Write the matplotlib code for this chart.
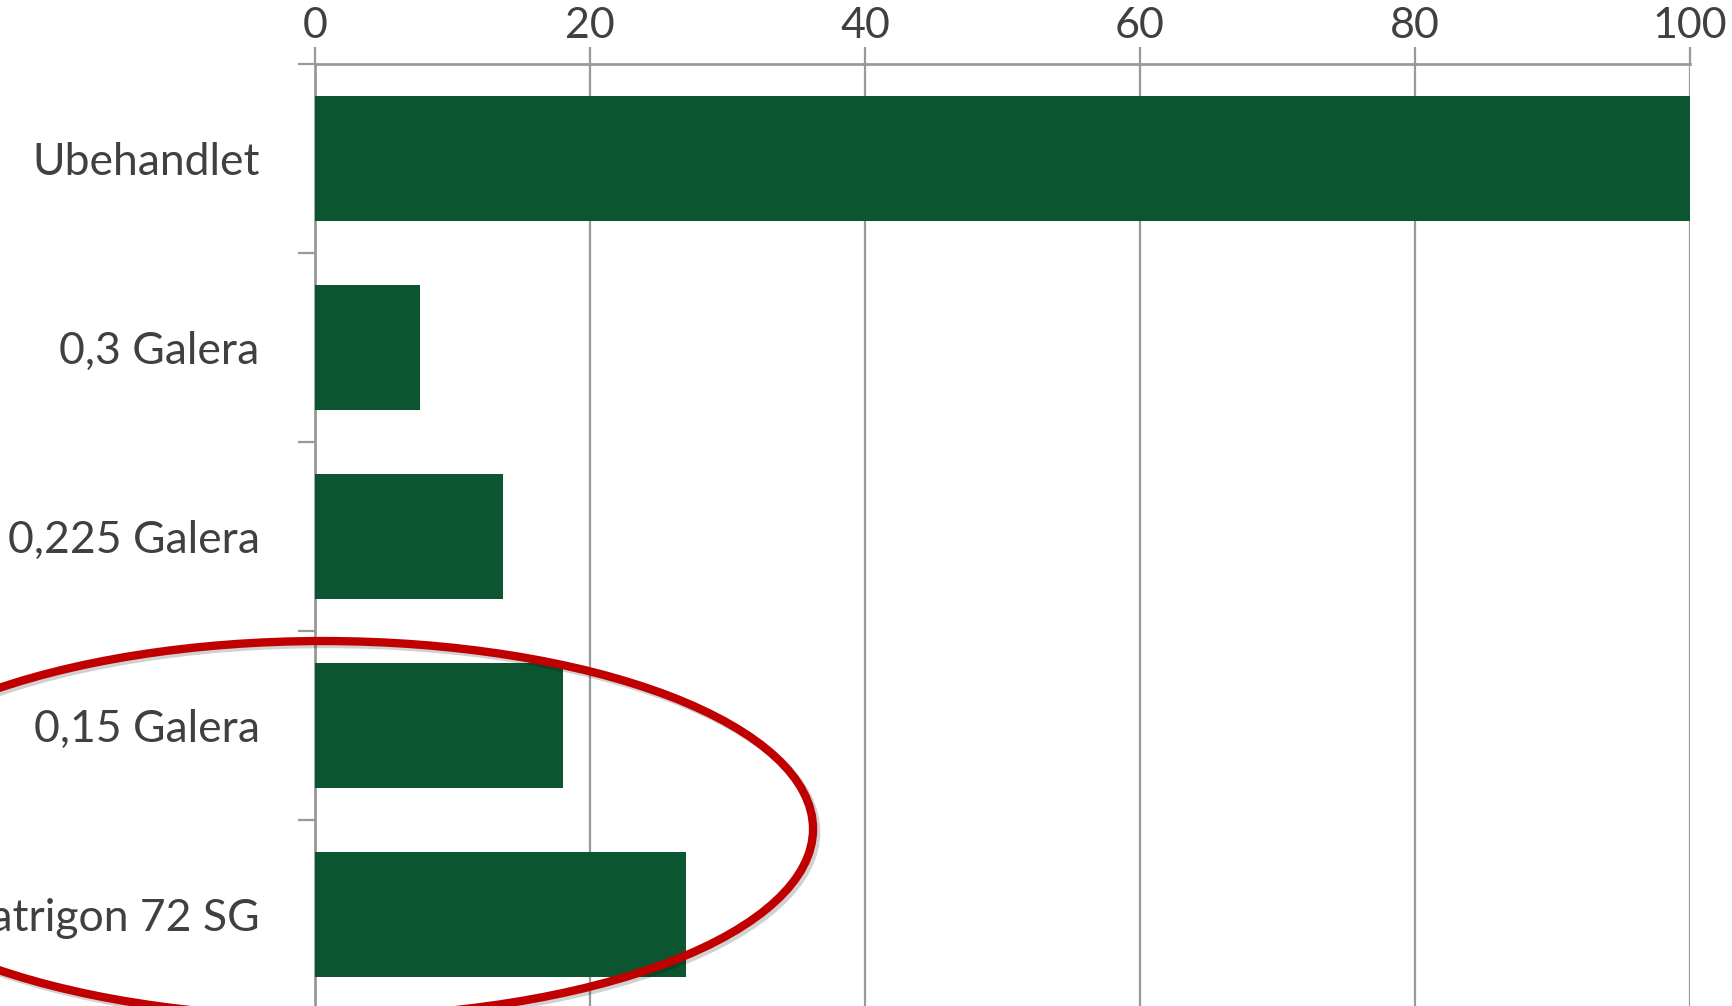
import numpy as np
import matplotlib
matplotlib.use("Agg")
from matplotlib import pyplot as plt
from matplotlib.patches import Ellipse

plt.rcParams['font.family'] = ['Lato', 'DejaVu Sans']

categories = ["Ubehandlet", "0,3 Galera", "0,225 Galera", "0,15 Galera", "Matrigon 72 SG"]
values = [100, 7.6, 13.7, 18.0, 27.0]
x_ticks = [0, 20, 40, 60, 80, 100]

grey = "#999999"
text_col = "#404040"

fig = plt.figure(figsize=(17.33, 10.06), dpi=100)
ax = fig.add_axes([0.1818, -0.003, 0.7934, 0.9394])

y = np.arange(len(categories))
ax.barh(y, values, height=0.66, color="#0b5630", zorder=3)

ax.set_xlim(0, 100)
ax.set_ylim(len(categories) - 0.5, -0.5)

# x axis on top, gridlines every 20
ax.xaxis.tick_top()
ax.set_xticks(x_ticks)
ax.set_xticklabels([str(t) for t in x_ticks])
ax.tick_params(axis='x', length=12, width=1.6, color=grey, labelsize=31,
               labelcolor=text_col, pad=2)
ax.grid(axis='x', color=grey, lw=1.6, zorder=1)
ax.set_axisbelow(True)

# category labels in the middle, tick marks between categories
ax.set_yticks(y)
ax.set_yticklabels(categories)
ax.set_yticks(np.arange(len(categories) + 1) - 0.5, minor=True)
ax.tick_params(axis='y', which='major', length=0, labelsize=32,
               labelcolor=text_col, pad=40)
ax.tick_params(axis='y', which='minor', length=12, width=1.6, color=grey)

for side in ['right', 'bottom']:
    ax.spines[side].set_visible(False)
for side in ['top', 'left']:
    ax.spines[side].set_color(grey)
    ax.spines[side].set_linewidth(2)

# red ring round the two lowest treatments
shadow = Ellipse((0.1882, 0.1729), 0.5655, 0.3738, transform=fig.transFigure,
                 fill=False, ec="#000000", lw=6, alpha=0.18, zorder=9)
ring = Ellipse((0.1864, 0.1759), 0.5655, 0.3738, transform=fig.transFigure,
               fill=False, ec="#c00000", lw=6, zorder=10)
fig.add_artist(shadow)
fig.add_artist(ring)

plt.savefig("out.png", dpi=100)
